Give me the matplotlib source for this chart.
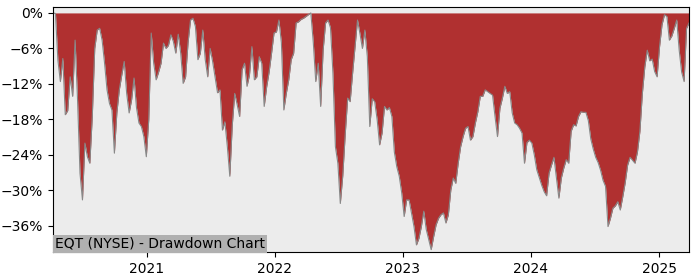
import matplotlib
matplotlib.use('Agg')
import matplotlib.pyplot as plt
import matplotlib.dates as mdates
from matplotlib.ticker import PercentFormatter, MultipleLocator
import numpy as np
import pandas as pd

title = 'EQT (NYSE) - Drawdown Chart'
start = '2020-04-09'

# weekly drawdown from running peak, in %
dd_2020 = [0, -0.1, -8, -11.6, -7.7, -17.2, -16.5, -10.8, -14.1, -4.6,
           -14.7, -27.1, -31.6, -22.0, -24.3, -25.4, -17.5, -6.0, -2.9, -2.6,
           -4.6, -8.5, -13.0, -15.3, -16.4, -23.7, -16.9, -13.0, -10.5, -8.2,
           -13.6, -16.9, -14.7, -11.0, -16.0, -18.6, -19.2, -20.9, -24.3, -18.0]
dd_2021 = [-3.4, -8.5, -11.3, -10.0, -8.5, -5.1, -6.0, -5.5, -3.7, -4.8,
           -6.8, -3.6, -6.8, -11.9, -10.8, -5.0, -1.2, -0.9, -2.3, -7.9,
           -6.8, -2.9, -7.9, -10.8, -6.0, -8.2, -10.8, -13.5, -13.0, -19.8,
           -18.4, -22.6, -27.6, -19.0, -13.6, -15.5, -17.5, -9.6, -8.5, -12.4,
           -10.5, -5.7, -11.3, -10.8, -7.4, -8.5, -15.8, -12.5, -10.0, -6.8,
           -3.4, -3.2]
dd_2022 = [-1.2, -5.0, -16.4, -13.6, -11.3, -7.9, -6.8, -1.7, -1.5, -1.1,
           -0.9, -0.6, -0.3, 0, -5.0, -11.6, -8.5, -15.8, -6.3, -1.7,
           -1.2, -2.5, -10.2, -22.6, -25.4, -32.2, -27.5, -20.5, -14.4, -15.0,
           -10.2, -5.7, -1.2, -3.5, -6.0, -2.9, -7.4, -19.2, -14.5, -15.0,
           -18.0, -22.3, -20.3, -15.8, -16.4, -16.0, -17.5, -23.5, -26.0, -27.6,
           -30.4, -34.4]
dd_2023 = [-31.6, -31.6, -33.8, -36.1, -39.2, -38.1, -36.1, -33.5, -36.6, -38.3,
           -40.0, -37.8, -35.8, -34.7, -34.1, -33.8, -35.5, -34.1, -29.9, -27.9,
           -28.8, -25.4, -22.6, -20.9, -19.5, -19.2, -21.5, -20.9, -18.6, -16.7,
           -14.1, -14.1, -13.0, -13.3, -13.6, -13.9, -17.5, -20.9, -16.1, -14.4,
           -12.4, -13.6, -13.3, -16.9, -18.6, -18.9, -19.5, -20.3, -25.4, -21.9,
           -21.5, -22.0, -24.0, -26.5, -27.8]
dd_2024 = [-29.1, -30.2, -30.9, -27.1, -25.7, -24.4, -27.9, -31.3, -27.9, -26.2,
           -24.8, -25.4, -20.0, -18.9, -19.1, -17.5, -16.7, -16.8, -16.8, -18.2,
           -21.3, -23.0, -24.4, -25.3, -26.6, -28.3, -29.3, -36.1, -34.7, -33.0,
           -32.6, -31.9, -33.3, -31.1, -28.7, -25.7, -24.4, -24.9, -25.4, -23.5,
           -20.0, -13.6, -9.1, -6.3, -8.1, -7.8, -9.9, -10.8, -5.7, -2.0,
           -0.3, -0.6, -4.6, -3.9, -2.6, -1.2, -6.3, -10.0, -11.6, -2.6,
           -1.7]

drawdown = np.array(dd_2020 + dd_2021 + dd_2022 + dd_2023 + dd_2024)
dates = pd.date_range(start, periods=len(drawdown), freq='7D')

fig = plt.figure(figsize=(7, 2.8), dpi=100)
ax = fig.add_axes([0.0757, 0.1, 0.9086, 0.875])
ax.set_facecolor('#ececec')
ax.fill_between(dates, drawdown, 0, color='#b03030', lw=0)
ax.plot(dates, drawdown, color='#888888', lw=0.8)

ax.set_xlim(dates[0], dates[-1])
ax.set_ylim(-40.4, 1)
ax.yaxis.set_major_locator(MultipleLocator(6))
ax.yaxis.set_major_formatter(PercentFormatter(decimals=0))
ax.xaxis.set_major_locator(mdates.YearLocator())
ax.xaxis.set_major_formatter(mdates.DateFormatter('%Y'))

ax.text(0.003, 0.005, title, transform=ax.transAxes, fontsize=10,
        ha='left', va='bottom',
        bbox=dict(facecolor='#b0b0b0', edgecolor='none', pad=1.5))

fig.savefig('out.png', dpi=100)
